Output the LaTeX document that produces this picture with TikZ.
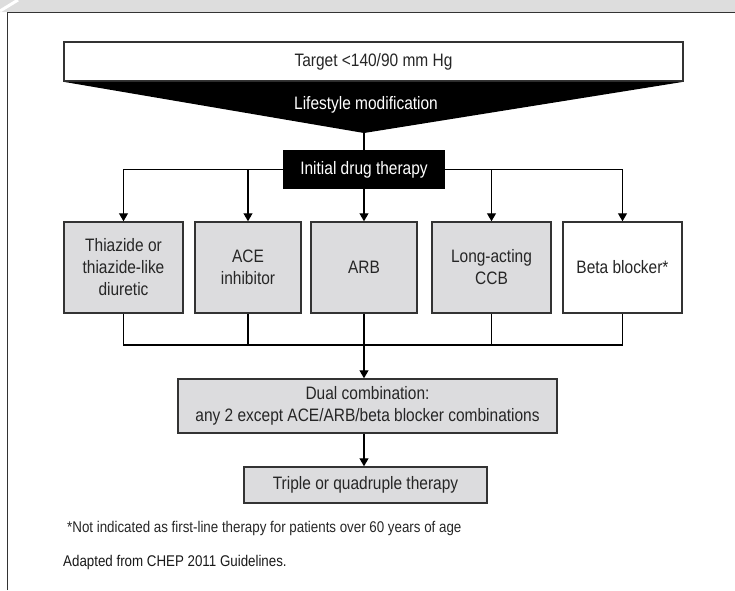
\documentclass[tikz,border=0pt]{standalone}
\usepackage{fontspec}
\setmainfont{Liberation Sans}[FakeStretch=0.86]
\usetikzlibrary{arrows.meta,calc,positioning}
\definecolor{boxgray}{HTML}{DCDCDE}
\definecolor{bandgray}{HTML}{DDDDDD}
\definecolor{edgegray}{HTML}{333333}
\newcommand{\boxfont}{\fontsize{18}{22}\selectfont}
\newcommand{\notefont}{\fontsize{15.5}{18}\selectfont}
\tikzset{
	drugbox/.style={draw=edgegray,line width=1.5pt,fill=boxgray,text=black!85,minimum height=91pt,inner sep=0pt,align=center,font=\boxfont},
	stepbox/.style={draw=edgegray,line width=1.5pt,fill=boxgray,text=black!85,inner sep=0pt,align=center,font=\boxfont},
	connector/.style={line width=1.2pt},
	arrow/.style={connector,-{Triangle[width=9pt,length=8pt]}},
}
\begin{document}
\begin{tikzpicture}[x=1pt,y=-1pt]
	\useasboundingbox (0,0) rectangle (735,590);
	\fill[bandgray] (0,0) rectangle (735,12);
	\draw[white,line width=3pt] (0,11) -- (18,0);
	\draw[edgegray,line width=1pt] (7,590) -- (7,12) -- (735,12);
	
	\node (target) at (373.5,61.5) [draw=edgegray,line width=1.5pt,fill=white,text=black!85,minimum width=619pt,minimum height=39pt,inner sep=0pt,font=\boxfont] {Target <140/90 mm Hg};
	\coordinate (tip) at (364,133);
	\fill (target.south west) -- (target.south east) -- (tip) -- cycle;
	\node (lifestyle) at (366,105) [text=white,font=\boxfont] {Lifestyle modification};
	\node (initial) at (364,169.5) [fill=black,text=white,minimum width=162pt,minimum height=39pt,inner sep=0pt,font=\boxfont] {Initial drug therapy};
	\draw[connector] (tip) -- (initial.north);
	
	\node (thiazide) at (123.5,267.5) [drugbox,minimum width=119pt] {Thiazide or\\thiazide-like\\diuretic};
	\node (ace) at (248,267.5) [drugbox,minimum width=106pt] {ACE\\inhibitor};
	\node (arb) at (364,267.5) [drugbox,minimum width=106pt] {ARB};
	\node (ccb) at (491.5,267.5) [drugbox,minimum width=119pt] {Long-acting\\CCB};
	\node (beta) at (622.5,267.5) [drugbox,minimum width=119pt,fill=white] {Beta blocker*};
	
	\draw[arrow] (initial.west) -| (thiazide.north);
	\draw[arrow] (initial.west -| ace.north) -- (ace.north);
	\draw[arrow] (initial.south) -- (arb.north);
	\draw[arrow] (initial.east -| ccb.north) -- (ccb.north);
	\draw[arrow] (initial.east) -| (beta.north);
	
	\node (dual) at (367.5,406) [stepbox,minimum width=379pt,minimum height=54pt] {Dual combination:\\any 2 except ACE/ARB/beta blocker combinations};
	\node (triple) at (365.5,485) [stepbox,minimum width=243pt,minimum height=36pt] {Triple or quadruple therapy};
	
	\coordinate (merge) at (364,345);
	\draw[connector] (thiazide.south) |- (merge) -| (beta.south);
	\draw[connector] (ace.south) -- (ace.south |- merge);
	\draw[connector] (ccb.south) -- (ccb.south |- merge);
	\draw[arrow] (arb.south) -- (arb.south |- dual.north);
	\draw[arrow] (dual.south -| arb.south) -- (triple.north -| arb.south);
	
	\node (note) at (67,528) [anchor=west,inner sep=0pt,text=black!85,font=\notefont] {*Not indicated as first-line therapy for patients over 60 years of age};
	\node (source) at (63,562) [anchor=west,inner sep=0pt,text=black!90,font=\notefont] {Adapted from CHEP 2011 Guidelines.};
\end{tikzpicture}
\end{document}
